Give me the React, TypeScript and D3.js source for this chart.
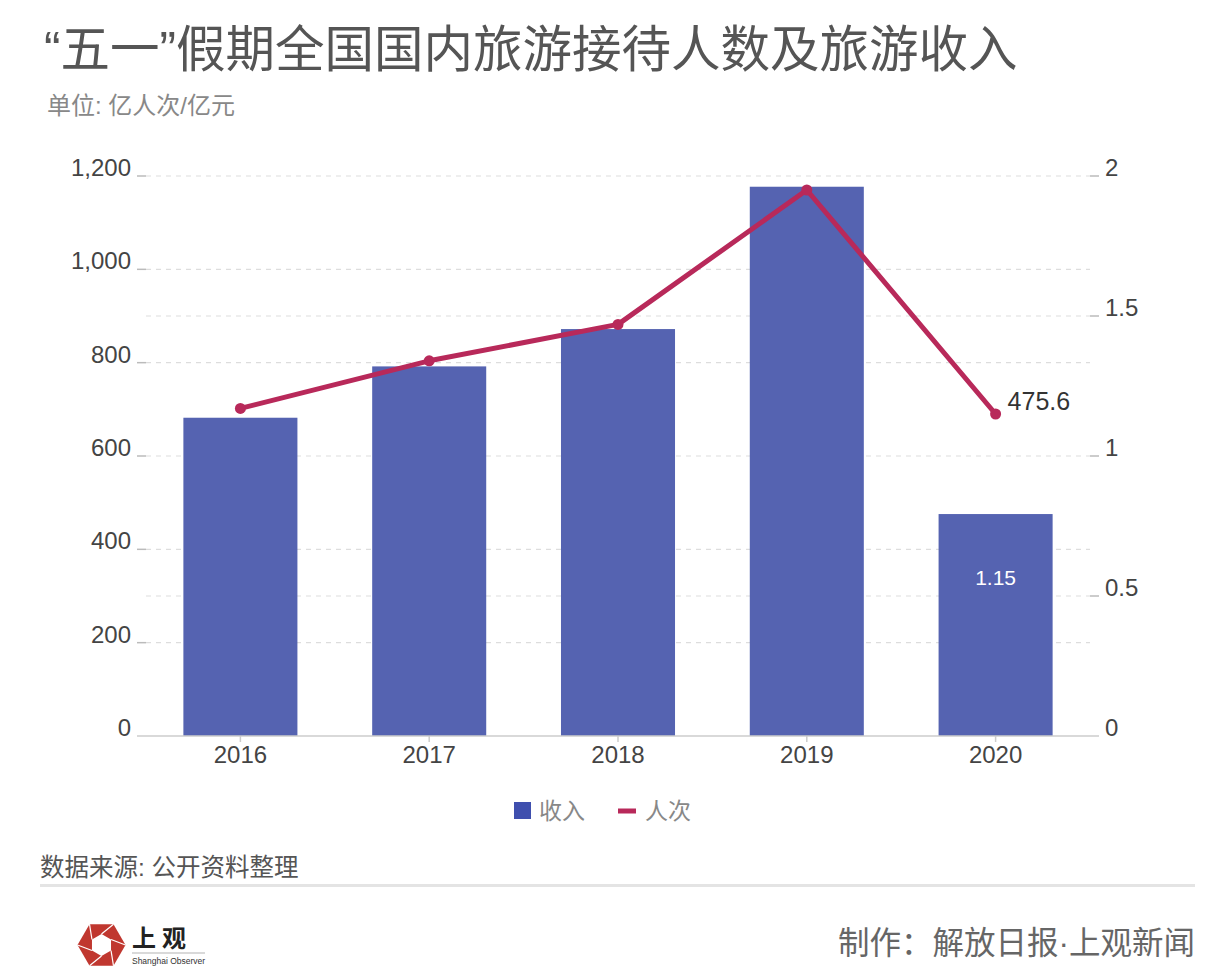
import React from "react";
import * as d3 from "d3";

const years = ["2016", "2017", "2018", "2019", "2020"];
const revenue = [682, 792, 872, 1177, 475.6]; // 亿元
const visitors = [1.17, 1.34, 1.47, 1.95, 1.15]; // 亿人次
const leftTicks = [0, 200, 400, 600, 800, 1000, 1200];
const rightTicks = [0, 0.5, 1, 1.5, 2];

const title = "“五一”假期全国国内旅游接待人数及旅游收入";
const subtitle = "单位: 亿人次/亿元";
const source = "数据来源: 公开资料整理";
const credit = "制作：解放日报·上观新闻";
const legendItems = ["收入", "人次"];

const FONT = "'Liberation Sans', 'Noto Sans CJK SC', sans-serif";
const BAR = "#5563B1";
const LINE = "#B8295A";

export default function App() {
  const x = d3.scaleBand<string>().domain(years).range([146, 1090]).paddingInner(0.396).paddingOuter(0.198);
  const yL = d3.scaleLinear().domain([0, 1200]).range([736, 176]);
  const yR = d3.scaleLinear().domain([0, 2]).range([736, 176]);
  const cx = (y: string) => (x(y) as number) + x.bandwidth() / 2;

  const gridYs = Array.from(
    new Set([...leftTicks.map((t) => yL(t)), ...rightTicks.map((t) => yR(t))].filter((v) => v < 735).map((v) => Math.round(v * 10) / 10))
  );

  const line = d3
    .line<number>()
    .x((_, i) => cx(years[i]))
    .y((d) => yR(d));

  const fmt = d3.format(",");
  const last = years.length - 1;

  // logo hexagon
  const hc = { x: 101.5, y: 945 };
  const hex = (r: number, rot: number) =>
    d3.range(6).map((i) => {
      const a = (Math.PI / 3) * i + rot;
      return [hc.x + r * Math.cos(a), hc.y + r * Math.sin(a)];
    });
  const outer = hex(24, 0);
  const inner = hex(11, Math.PI / 6);

  return (
    <svg width={1230} height={980} style={{ position: "absolute", left: 0, top: 0, background: "#fff" }} fontFamily={FONT}>
      <rect width={1230} height={980} fill="#fff" />
      <text x={44} y={67} fontSize={49.5} fill="#555">{title}</text>
      <text x={47} y={114} fontSize={24} fill="#888">{subtitle}</text>

      {/* gridlines */}
      {gridYs.map((gy) => (
        <line key={gy} x1={146} x2={1090} y1={gy} y2={gy} stroke="#ddd" strokeWidth={1.2} strokeDasharray="5,5" />
      ))}

      {/* left axis */}
      {leftTicks.map((t) => (
        <g key={"l" + t}>
          {t > 0 && <line x1={137} x2={146} y1={yL(t)} y2={yL(t)} stroke="#bbb" strokeWidth={1.5} />}
          <text x={131} y={yL(t)} fontSize={24} fill="#444" textAnchor="end">{fmt(t)}</text>
        </g>
      ))}
      {/* right axis */}
      {rightTicks.map((t) => (
        <g key={"r" + t}>
          {t > 0 && <line x1={1090} x2={1099} y1={yR(t)} y2={yR(t)} stroke="#bbb" strokeWidth={1.5} />}
          <text x={1105} y={yR(t)} fontSize={24} fill="#444">{String(t)}</text>
        </g>
      ))}

      {/* bars */}
      {years.map((yr, i) => (
        <rect key={yr} x={x(yr)} y={yL(revenue[i])} width={x.bandwidth()} height={yL(0) - yL(revenue[i])} fill={BAR} />
      ))}

      {/* baseline + x ticks */}
      <line x1={137} x2={1099} y1={736} y2={736} stroke="#ccc" strokeWidth={1.5} />
      {years.map((yr) => (
        <g key={"x" + yr}>
          <line x1={cx(yr)} x2={cx(yr)} y1={736} y2={742} stroke="#ccc" strokeWidth={1.5} />
          <text x={cx(yr)} y={763} fontSize={24} fill="#444" textAnchor="middle">{yr}</text>
        </g>
      ))}

      {/* line */}
      <path d={line(visitors) || ""} fill="none" stroke={LINE} strokeWidth={5} strokeLinejoin="round" />
      {visitors.map((v, i) => (
        <circle key={i} cx={cx(years[i])} cy={yR(v)} r={5.5} fill={LINE} />
      ))}

      {/* labels (as in source) */}
      <text x={cx(years[last]) + 12} y={yR(visitors[last]) - 4} fontSize={25} fill="#333">{String(revenue[last])}</text>
      <text x={cx(years[last])} y={yL(revenue[last]) + 71} fontSize={21} fill="#fff" textAnchor="middle">{visitors[last].toFixed(2)}</text>

      {/* legend */}
      <rect x={514} y={802} width={17} height={17} fill="#3F4FAE" />
      <text x={539} y={819} fontSize={23} fill="#888">{legendItems[0]}</text>
      <line x1={618} x2={636} y1={811} y2={811} stroke={LINE} strokeWidth={5} />
      <text x={645} y={819} fontSize={23} fill="#888">{legendItems[1]}</text>

      {/* footer */}
      <text x={40} y={876} fontSize={24.5} fill="#555">{source}</text>
      <rect x={40} y={884} width={1155} height={3} fill="#e4e4e4" />
      <text x={1195} y={954} fontSize={31.5} fill="#666" textAnchor="end">{credit}</text>

      {/* logo */}
      <polygon points={outer.map((p) => p.join(",")).join(" ")} fill="#C0372F" />
      <polygon points={inner.map((p) => p.join(",")).join(" ")} fill="#fff" />
      {inner.map((p, i) => {
        const o = outer[(i + 1) % 6];
        return <line key={i} x1={p[0]} y1={p[1]} x2={o[0]} y2={o[1]} stroke="#fff" strokeWidth={1.2} />;
      })}
      <text x={132} y={947} fontSize={24} fill="#222" fontFamily="'Noto Sans CJK SC'" fontWeight={700} letterSpacing={6}>上观</text>
      <line x1={132} x2={205} y1={953} y2={953} stroke="#ccc" strokeWidth={1.5} />
      <text x={132} y={964} fontSize={8.5} fill="#333" fontFamily="'Liberation Sans'" textLength={73}>Shanghai Observer</text>
    </svg>
  );
}
